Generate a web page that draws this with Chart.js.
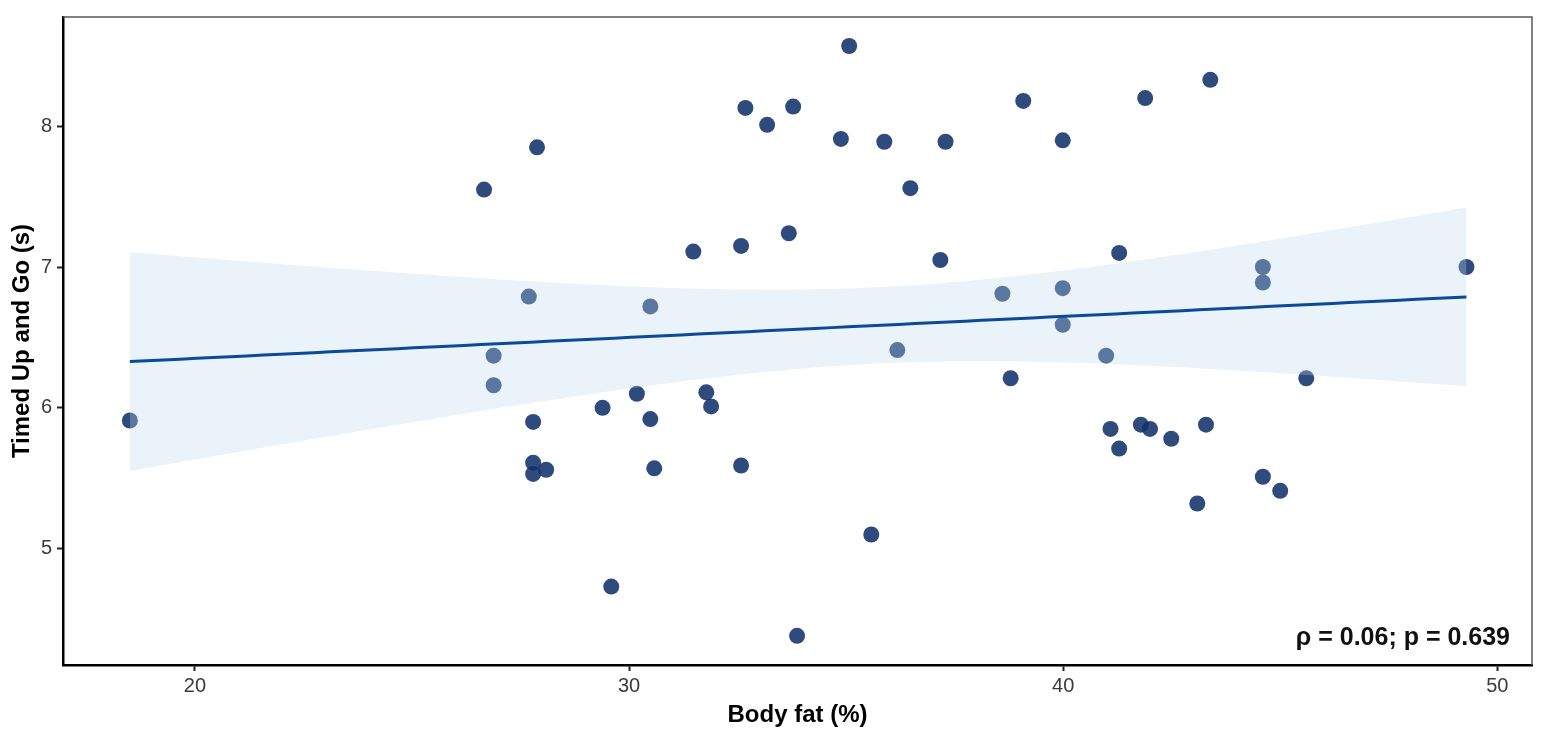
<!DOCTYPE html>
<html>
<head>
  <title>index</title>
  <script src="https://cdn.jsdelivr.net/npm/chart.js"></script>
  <style>
    html, body { margin: 0; padding: 0; background: #fff; }
    #wrap { width: 1545px; height: 737px; position: relative; }
  </style>
</head>
<body>
  <div id="wrap"><canvas id="chart"></canvas></div>

  <script>
    // body fat (%) and Timed Up and Go (s)
    const bodyFat = [
      18.50, 26.66, 26.88, 26.88, 27.69, 27.88, 27.79, 27.79, 27.79, 28.09,
      29.39, 29.59, 30.18, 30.49, 30.49, 30.58, 31.48, 31.78, 31.89, 32.58,
      32.58, 32.68, 33.18, 33.68, 33.78, 33.87, 34.88, 35.07, 35.58, 35.88,
      36.18, 36.48, 37.17, 37.29, 38.60, 38.79, 39.08, 39.99, 39.99, 39.99,
      40.99, 41.09, 41.29, 41.29, 41.79, 41.89, 42.00, 42.49, 43.09, 43.29,
      43.39, 44.60, 44.60, 44.60, 45.00, 45.60, 49.29
    ];
    const tug = [
      5.91, 7.55, 6.37, 6.16, 6.79, 7.85, 5.90, 5.61, 5.53, 5.56,
      6.00, 4.73, 6.10, 6.72, 5.92, 5.57, 7.11, 6.11, 6.01, 5.59,
      7.15, 8.13, 8.01, 7.24, 8.14, 4.38, 7.91, 8.57, 5.10, 7.89,
      6.41, 7.56, 7.05, 7.89, 6.81, 6.21, 8.18, 7.90, 6.85, 6.59,
      6.37, 5.85, 7.10, 5.71, 5.88, 8.20, 5.85, 5.78, 5.32, 5.88,
      8.33, 7.00, 6.89, 5.51, 5.41, 6.21, 7.00
    ];
    const xTicks = [20, 30, 40, 50];
    const yTicks = [5, 6, 7, 8];
    const statLabel = 'ρ = 0.06; p = 0.639';

    // linear fit with 95% confidence band, as geom_smooth(method = "lm")
    const n = bodyFat.length;
    const xMean = bodyFat.reduce((a, b) => a + b, 0) / n;
    const yMean = tug.reduce((a, b) => a + b, 0) / n;
    let sxx = 0, sxy = 0;
    for (let i = 0; i < n; i++) {
      sxx += (bodyFat[i] - xMean) ** 2;
      sxy += (bodyFat[i] - xMean) * (tug[i] - yMean);
    }
    const slope = sxy / sxx;
    const intercept = yMean - slope * xMean;
    let sse = 0;
    for (let i = 0; i < n; i++) sse += (tug[i] - intercept - slope * bodyFat[i]) ** 2;
    const se = Math.sqrt(sse / (n - 2));
    const tCrit = 2.004;

    const xLo = Math.min(...bodyFat), xHi = Math.max(...bodyFat);
    const fitLine = [], bandUpper = [], bandLower = [];
    const steps = 80;
    for (let k = 0; k <= steps; k++) {
      const x = xLo + (xHi - xLo) * k / steps;
      const yhat = intercept + slope * x;
      const half = tCrit * se * Math.sqrt(1 / n + (x - xMean) ** 2 / sxx);
      fitLine.push({ x: x, y: yhat });
      bandUpper.push({ x: x, y: yhat + half });
      bandLower.push({ x: x, y: yhat - half });
    }

    const fontFamily = '"Liberation Sans", Arial, sans-serif';

    const framePlugin = {
      id: 'frame',
      afterDraw(chart) {
        const { ctx, chartArea: a } = chart;
        ctx.save();
        ctx.strokeStyle = '#5a5a5a';
        ctx.lineWidth = 1.5;
        ctx.beginPath();
        ctx.moveTo(a.left, a.top);
        ctx.lineTo(a.right, a.top);
        ctx.lineTo(a.right, a.bottom);
        ctx.stroke();
        ctx.fillStyle = '#111';
        ctx.font = 'bold 25px ' + fontFamily;
        ctx.textAlign = 'right';
        ctx.textBaseline = 'alphabetic';
        ctx.fillText(statLabel, a.right - 22, a.bottom - 20);
        ctx.restore();
      }
    };

    const axisGrid = {
      display: true,
      drawOnChartArea: false,
      drawTicks: true,
      tickLength: 6,
      tickColor: '#222',
      tickWidth: 2
    };

    new Chart(document.getElementById('chart'), {
      type: 'scatter',
      data: {
        datasets: [
          {
            type: 'line',
            data: fitLine,
            borderColor: '#0a4a9c',
            borderWidth: 3,
            pointRadius: 0,
            fill: false,
            order: 0
          },
          {
            type: 'line',
            data: bandUpper,
            borderWidth: 0,
            borderColor: 'rgba(0,0,0,0)',
            pointRadius: 0,
            fill: false,
            order: 1
          },
          {
            type: 'line',
            data: bandLower,
            borderWidth: 0,
            borderColor: 'rgba(0,0,0,0)',
            backgroundColor: 'rgba(187,216,236,0.31)',
            pointRadius: 0,
            fill: '-1',
            order: 1
          },
          {
            data: bodyFat.map((x, i) => ({ x: x, y: tug[i] })),
            backgroundColor: 'rgba(18,49,106,0.88)',
            borderWidth: 0,
            pointRadius: 8,
            order: 3
          }
        ]
      },
      options: {
        responsive: true,
        maintainAspectRatio: false,
        animation: false,
        events: [],
        layout: { padding: { top: 15, right: 13, left: 0, bottom: 0 } },
        plugins: {
          legend: { display: false },
          tooltip: { enabled: false }
        },
        scales: {
          x: {
            type: 'linear',
            min: 16.96,
            max: 50.8,
            afterFit(scale) { scale.height = 72; },
            afterBuildTicks(scale) { scale.ticks = xTicks.map(v => ({ value: v })); },
            grid: axisGrid,
            border: { display: true, color: '#000', width: 2.5 },
            ticks: {
              padding: 3,
              color: '#3a3a3a',
              font: { family: fontFamily, size: 20 }
            },
            title: {
              display: true,
              text: 'Body fat (%)',
              color: '#000',
              padding: { top: 0, bottom: 7 },
              font: { family: fontFamily, size: 24, weight: 'bold' }
            }
          },
          y: {
            type: 'linear',
            min: 4.173,
            max: 8.776,
            afterFit(scale) { scale.width = 63; },
            afterBuildTicks(scale) { scale.ticks = yTicks.map(v => ({ value: v })); },
            grid: axisGrid,
            border: { display: true, color: '#000', width: 2.5 },
            ticks: {
              padding: 5,
              color: '#3a3a3a',
              font: { family: fontFamily, size: 20 }
            },
            title: {
              display: true,
              text: 'Timed Up and Go (s)',
              color: '#000',
              padding: { top: 8, bottom: 0 },
              font: { family: fontFamily, size: 24, weight: 'bold' }
            }
          }
        }
      },
      plugins: [framePlugin]
    });
  </script>
</body>
</html>
